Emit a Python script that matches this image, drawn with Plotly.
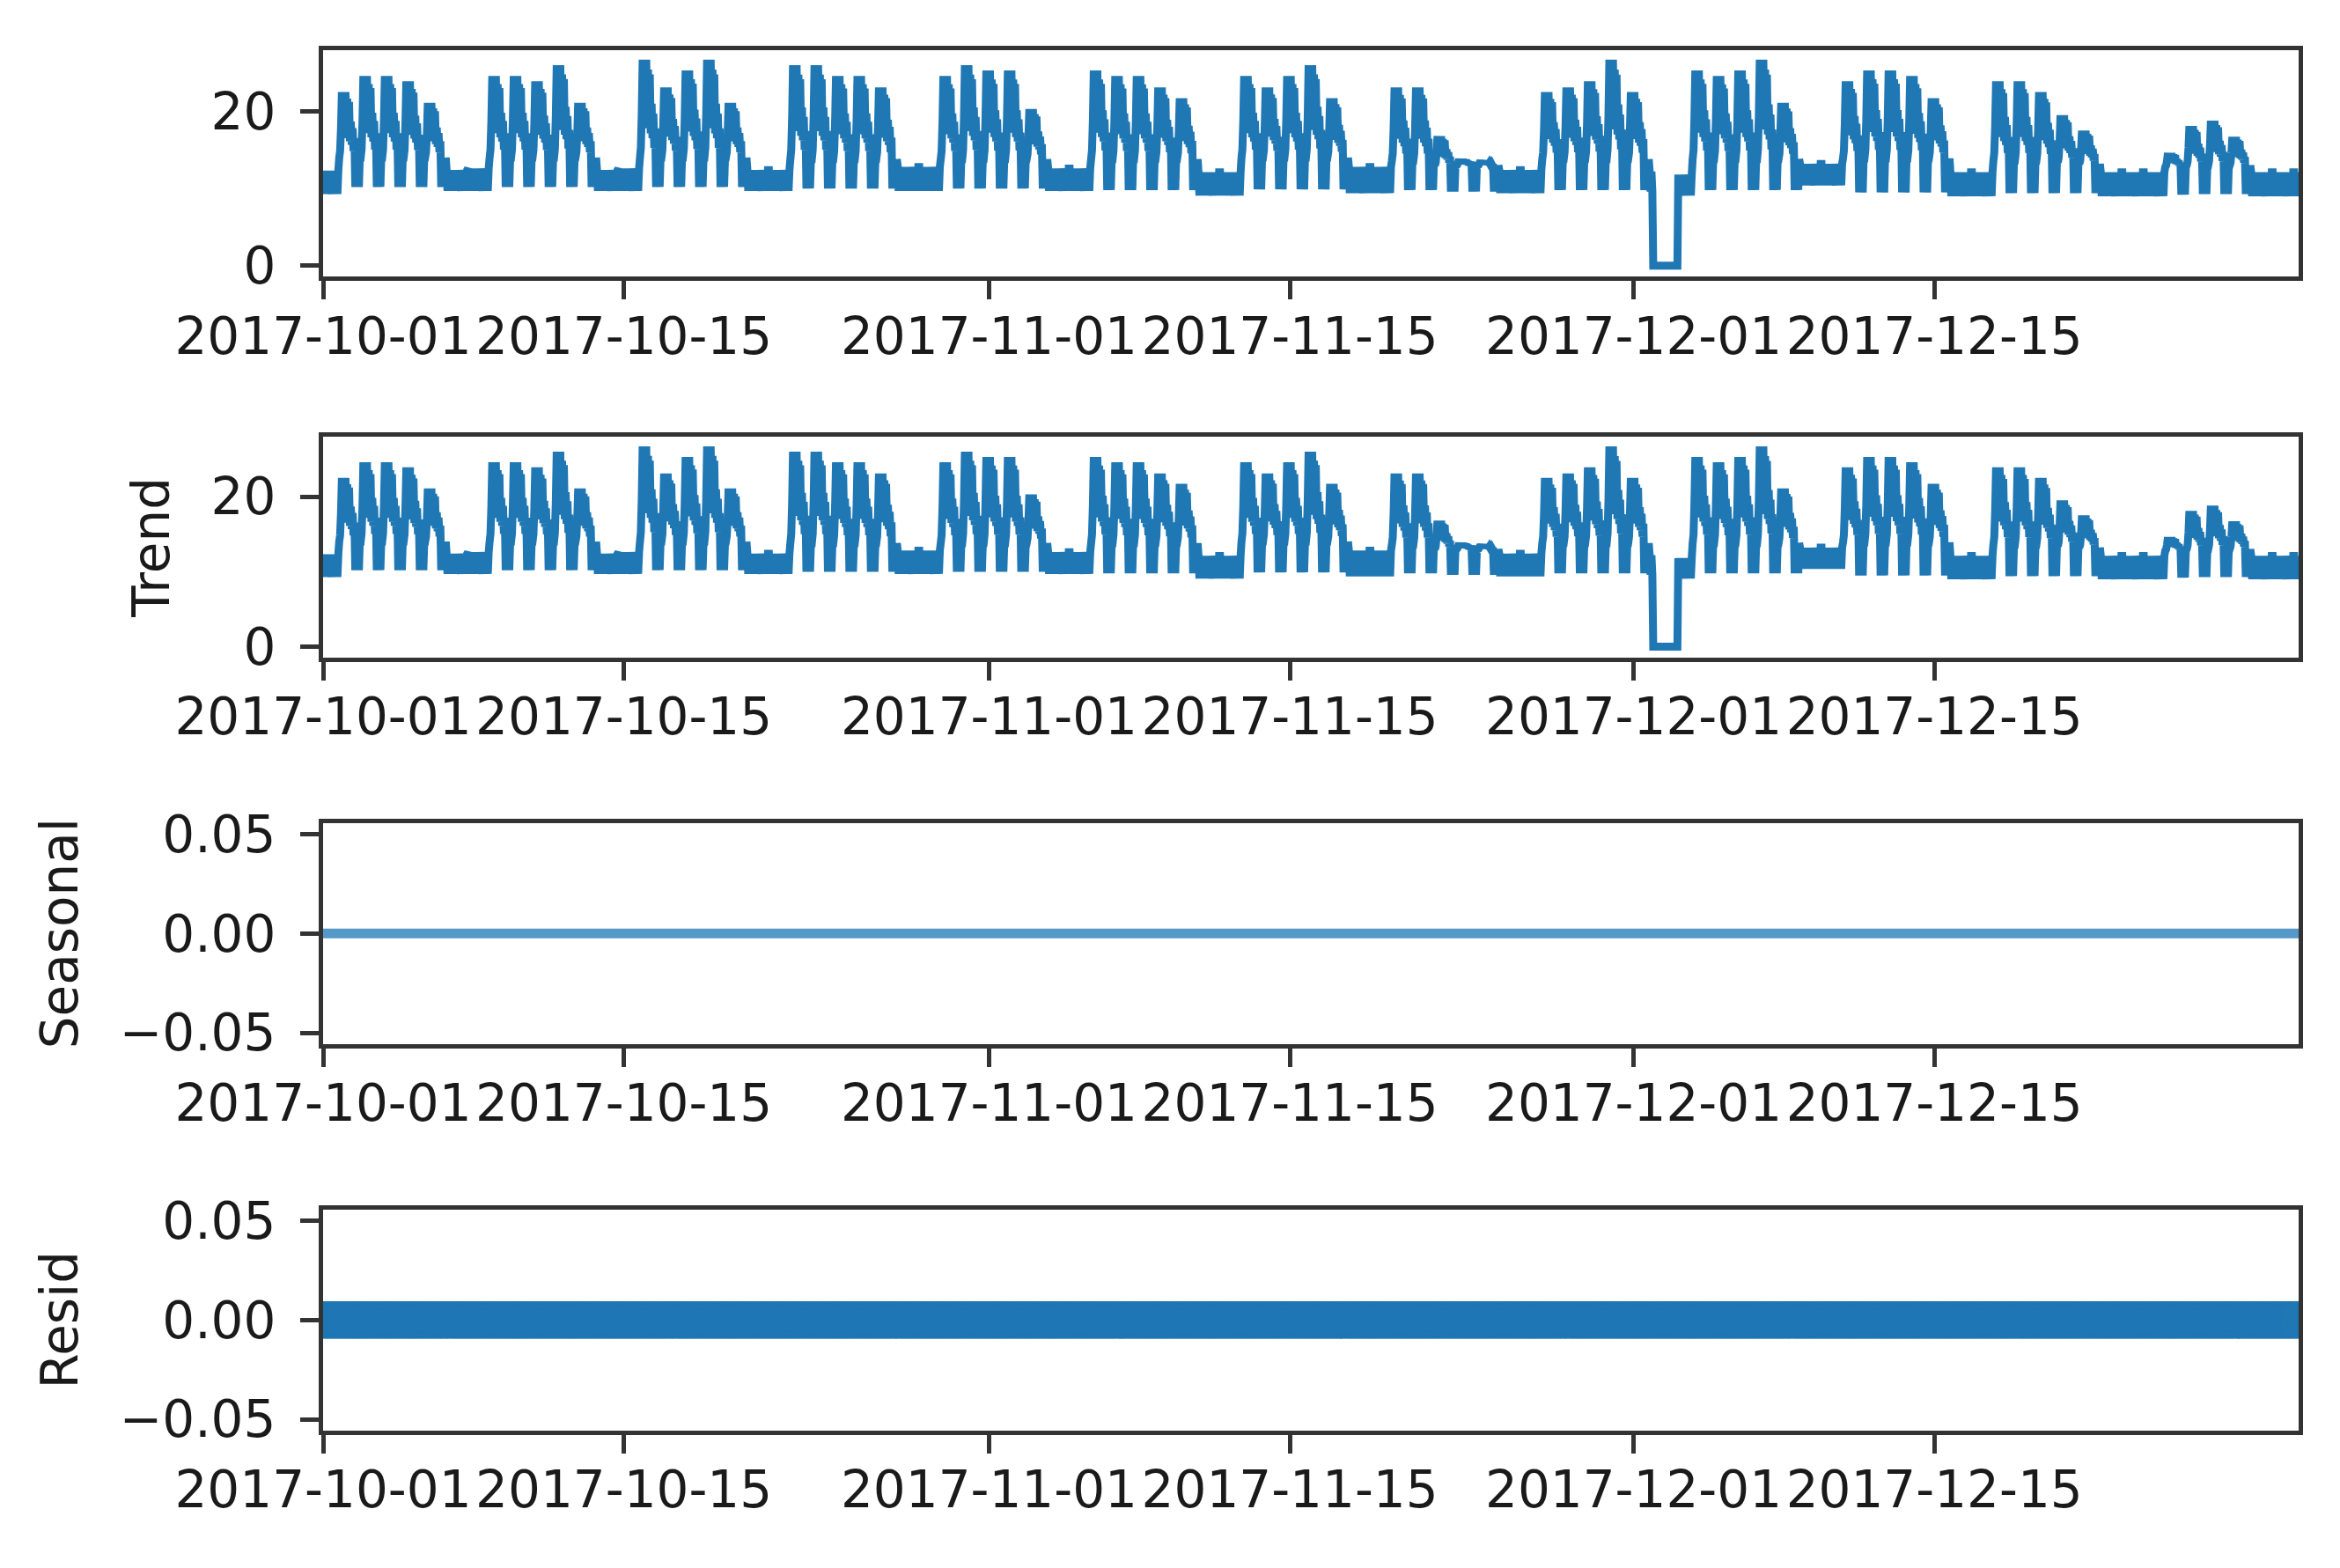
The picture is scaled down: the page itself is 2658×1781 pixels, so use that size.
import pandas as pd
import plotly.graph_objects as go

# ---------------- data ----------------
# one entry per calendar day, 2017-10-01 (Sun) .. 2017-12-31 (Sun)
day_dates = pd.date_range("2017-10-01", "2017-12-31", freq="D")

# daily peak of the working-hours spike (0 = no spike: weekend / holiday)
day_peak = [
    0.0, 22.5, 24.6, 24.6, 23.9, 21.1, 0.0,    # Oct 01-07
    0.0, 24.6, 24.6, 23.9, 26.0, 21.1, 0.0,    # Oct 08-14
    0.0, 26.7, 23.1, 25.3, 26.7, 21.1, 0.0,    # Oct 15-21
    0.0, 26.0, 26.0, 24.6, 24.6, 23.1, 0.0,    # Oct 22-28
    0.0, 24.6, 26.0, 25.3, 25.3, 20.3, 0.0,    # Oct 29-Nov 04
    0.0, 25.3, 24.6, 24.6, 23.1, 21.7, 0.0,    # Nov 05-11
    0.0, 24.6, 23.1, 24.6, 26.0, 21.7, 0.0,    # Nov 12-18
    0.0, 23.1, 23.1, 16.8, 13.8, 13.6, 0.0,    # Nov 19-25
    0.0, 22.5, 23.1, 23.9, 26.7, 22.5, 0.0,    # Nov 26-Dec 02
    0.0, 25.3, 24.6, 25.3, 26.7, 21.1, 0.0,    # Dec 03-09
    0.0, 23.9, 25.3, 25.3, 24.6, 21.7, 0.0,    # Dec 10-16
    0.0, 23.9, 23.9, 22.5, 19.5, 17.5, 0.0,    # Dec 17-23
    0.0, 0.0, 14.6, 18.1, 18.8, 16.7, 0.0,     # Dec 24-30
    0.0,                                       # Dec 31
]

# lower edge of the base-load band
day_low = [
    9.3, 10.2, 10.2, 10.2, 10.2, 10.2, 9.7,    # Oct 01-07
    9.7, 10.2, 10.2, 10.2, 10.2, 10.2, 9.7,    # Oct 08-14
    9.7, 10.2, 10.2, 10.2, 10.2, 10.2, 9.7,    # Oct 15-21
    9.7, 10.0, 10.0, 10.0, 10.0, 10.0, 9.7,    # Oct 22-28
    9.7, 10.0, 10.0, 10.0, 10.0, 10.0, 9.7,    # Oct 29-Nov 04
    9.7, 9.8, 9.8, 9.8, 9.8, 9.8, 9.1,         # Nov 05-11
    9.1, 9.9, 9.9, 9.9, 9.9, 9.9, 9.4,         # Nov 12-18
    9.4, 9.8, 9.8, 9.6, 9.6, 9.6, 9.4,         # Nov 19-25
    9.4, 9.8, 9.8, 9.8, 9.8, 9.8, 9.6,         # Nov 26-Dec 02
    9.1, 9.8, 9.8, 9.8, 9.8, 9.8, 10.4,        # Dec 03-09
    10.4, 9.5, 9.5, 9.5, 9.5, 9.5, 9.0,        # Dec 10-16
    9.0, 9.4, 9.4, 9.4, 9.4, 9.4, 9.0,         # Dec 17-23
    9.0, 9.0, 9.2, 9.3, 9.3, 9.3, 9.0,         # Dec 24-30
    9.0,                                       # Dec 31
]

# upper edge of the base-load band
day_high = [
    12.3, 14.0, 14.0, 14.0, 14.0, 14.0, 12.4,
    12.6, 14.0, 14.0, 14.0, 14.0, 14.0, 12.4,
    12.6, 14.0, 14.0, 14.0, 14.0, 14.0, 12.4,
    12.4, 13.8, 13.8, 13.8, 13.8, 13.8, 12.8,
    12.8, 13.8, 13.8, 13.8, 13.8, 13.8, 12.6,
    12.6, 13.8, 13.8, 13.8, 13.8, 13.8, 12.1,
    12.1, 14.0, 14.0, 14.0, 14.0, 14.0, 12.8,
    12.8, 13.6, 13.6, 13.0, 13.0, 13.0, 12.4,
    12.4, 13.8, 13.8, 13.8, 13.8, 13.8, 12.2,
    11.8, 13.8, 13.8, 13.8, 13.8, 13.8, 13.2,
    13.2, 13.9, 13.9, 13.9, 13.9, 13.9, 12.1,
    12.1, 13.6, 13.6, 13.6, 13.4, 13.2, 12.1,
    12.1, 12.1, 12.8, 13.0, 13.0, 13.0, 12.1,
    12.1,
]

# intraday shape of a working day, hour 0 = 18:00 of the previous evening
spike_shape = [0.0, 0.1, 0.45, 1.0, 0.35, 1.0, 0.3, 1.0, 0.35, 0.9, 0.3, 0.85,
               0.25, 0.55, 0.2, 0.45, 0.1, 0.3, 0.0, 0.0, 0.0, 0.0, 0.0, 0.0]
# position inside the base band (0 = low edge, 1 = high edge)
band_shape = [1, 0, 1, 0, 1, 0, 1, 0, 1, 0, 1, 0,
              1, 0, 1, 0.5, 0, 1, 0, 1, 0, 1, 0, 1]
shape_start_hour = 18

# meter outage (reading drops to zero)
outage_start = "2017-12-01 22:00"
outage_end = "2017-12-03 01:00"
outage_value = 0.0

x_tick_dates = ["2017-10-01", "2017-10-15", "2017-11-01",
                "2017-11-15", "2017-12-01", "2017-12-15"]
x_tick_labels = x_tick_dates
obs_ticks = [0, 20]
small_ticks = [-0.05, 0.0, 0.05]
small_tick_labels = ["\u22120.05", "0.00", "0.05"]
panel_titles = ["", "Trend", "Seasonal", "Resid"]

# ---------------- assemble hourly series ----------------
times = pd.date_range("2017-10-01 00:00", "2017-12-31 23:00", freq="h")
observed = []
shift = 24 - shape_start_hour
o_start, o_end = pd.Timestamp(outage_start), pd.Timestamp(outage_end)
for i, t in enumerate(times):
    k = i + shift
    d = min(k // 24, len(day_peak) - 1)
    h = k % 24
    lo, hi, pk = day_low[d], day_high[d], day_peak[d]
    v = lo + (hi - lo) * band_shape[h]
    if pk > 0 and spike_shape[h] > 0:
        v = max(v, hi + (pk - hi) * spike_shape[h])
    if o_start <= t <= o_end:
        v = outage_value
    observed.append(v)

trend = list(observed)                       # trend equals the observed series
seasonal = [o - tr for o, tr in zip(observed, trend)]
resid = [o - tr - s for o, tr, s in zip(observed, trend, seasonal)]

# ---------------- figure ----------------
PAGE_OFF = 8                     # default body margin of the html page
W, H = 2658 - PAGE_OFF, 1781 - PAGE_OFF
blue = "#1f77b4"
fig = go.Figure()
fig.add_trace(go.Scatter(x=times, y=observed, mode="lines", xaxis="x", yaxis="y",
                         line=dict(color=blue, width=9, simplify=False)))
fig.add_trace(go.Scatter(x=times, y=trend, mode="lines", xaxis="x2", yaxis="y2",
                         line=dict(color=blue, width=9, simplify=False)))
fig.add_trace(go.Scatter(x=times, y=seasonal, mode="lines", xaxis="x3", yaxis="y3",
                         line=dict(color="#5599c8", width=11)))
fig.add_trace(go.Scatter(x=times, y=resid, mode="markers", xaxis="x4", yaxis="y4",
                         marker=dict(color=blue, size=42, line=dict(width=0))))

# panel boxes in page pixels (top, bottom) and x extent
panels_px = [(56.5, 314), (496, 746.5), (935, 1185.5), (1374, 1624.5)]
x_left_px, x_right_px = 367, 2611
xdom = [(x_left_px - PAGE_OFF) / W, (x_right_px - PAGE_OFF) / W]
font = dict(family="DejaVu Sans", size=58, color="#1a1a1a")
line_c = "#333333"

layout = dict(width=W, height=H, paper_bgcolor="white", plot_bgcolor="white",
              margin=dict(l=0, r=0, t=0, b=0, autoexpand=False), showlegend=False,
              font=font)
for n, (top, bot) in enumerate(panels_px, start=1):
    sfx = "" if n == 1 else str(n)
    layout["xaxis" + sfx] = dict(
        domain=xdom, anchor="y" + sfx, type="date", automargin=False,
        range=["2017-10-01 00:00", "2017-12-31 23:00"],
        tickvals=x_tick_dates, ticktext=x_tick_labels, tickangle=0,
        ticklabelstandoff=-8,
        showline=True, linecolor=line_c, linewidth=5, mirror=True,
        ticks="outside", ticklen=21, tickwidth=5, tickcolor=line_c,
        showgrid=False, zeroline=False, tickfont=font)
    ydict = dict(
        domain=[1 - (bot - PAGE_OFF) / H, 1 - (top - PAGE_OFF) / H],
        anchor="x" + sfx, automargin=False,
        showline=True, linecolor=line_c, linewidth=5, mirror=True,
        ticks="outside", ticklen=21, tickwidth=5, tickcolor=line_c,
        ticklabelstandoff=16,
        showgrid=False, zeroline=False, tickfont=font,
        title=dict(text=panel_titles[n - 1], font=font, standoff=30))
    if n <= 2:
        ydict.update(range=[-1.4, 28.0], tickvals=obs_ticks,
                     ticktext=[str(v) for v in obs_ticks])
    else:
        ydict.update(range=[-0.0555, 0.0555], tickvals=small_ticks,
                     ticktext=small_tick_labels)
    layout["yaxis" + sfx] = ydict

fig.update_layout(**layout)
fig.write_html("out.html")
